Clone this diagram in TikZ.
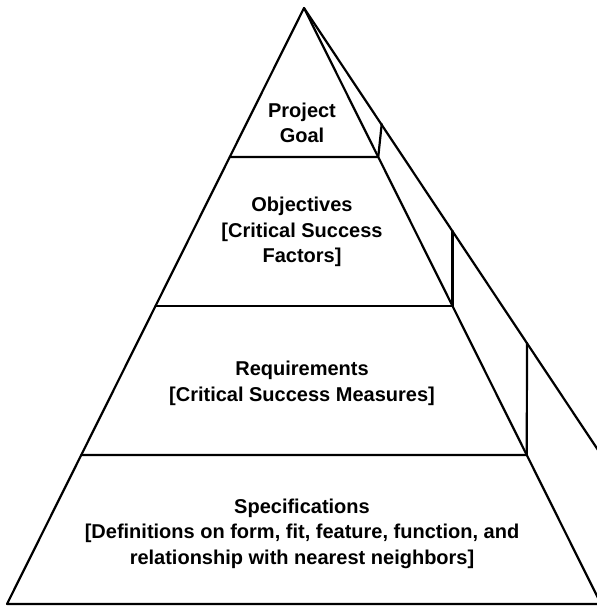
\documentclass[tikz,border=0pt]{standalone}
\usepackage{fontspec}
\setmainfont{Liberation Sans}
\usetikzlibrary{calc}
\begin{document}
\begin{tikzpicture}[x=1pt,y=-1pt,
  edge/.style={line width=2.2pt, line join=round, line cap=round},
  lbl/.style={font=\bfseries\fontsize{20}{25.5}\selectfont, align=center, anchor=base, inner sep=0pt}]
\useasboundingbox (0,0) rectangle (597,608);
\clip (0,0) rectangle (597,608);
% pyramid corners
\coordinate (A) at (304,8);
\coordinate (L) at (7,604);
\coordinate (R) at (601,604);
\coordinate (O) at (604,459);
% band lines
\coordinate (l1) at ($(A)!0.25!(L)$);
\coordinate (r1) at ($(A)!0.25!(R)$);
\coordinate (l2) at ($(A)!0.5!(L)$);
\coordinate (r2) at ($(A)!0.5!(R)$);
\coordinate (l3) at ($(A)!0.75!(L)$);
\coordinate (r3) at ($(A)!0.75!(R)$);
% tops of the small verticals on the outer edge
\coordinate (t1) at (381.7,124);
\coordinate (t2) at (452.5,231);
\coordinate (t3) at (527,343);
\draw[edge] (L) -- (A) -- (R) -- cycle;
\draw[edge] (A) -- (O);
\draw[edge] (l1) -- (r1) -- (t1);
\draw[edge] (l2) -- (r2) -- (t2);
\draw[edge] (l3) -- (r3) -- (t3);
\node[lbl] (goal) at (302,142.7) {Project\\Goal};
\node[lbl] (obj) at (302,262.7) {Objectives\\{}[Critical Success\\Factors]};
\node[lbl] (req) at (302,401) {Requirements\\{}[Critical Success Measures]};
\node[lbl] (spec) at (302,564) {Specifications\\{}[Definitions on form, fit, feature, function, and\\relationship with nearest neighbors]};
\end{tikzpicture}
\end{document}
